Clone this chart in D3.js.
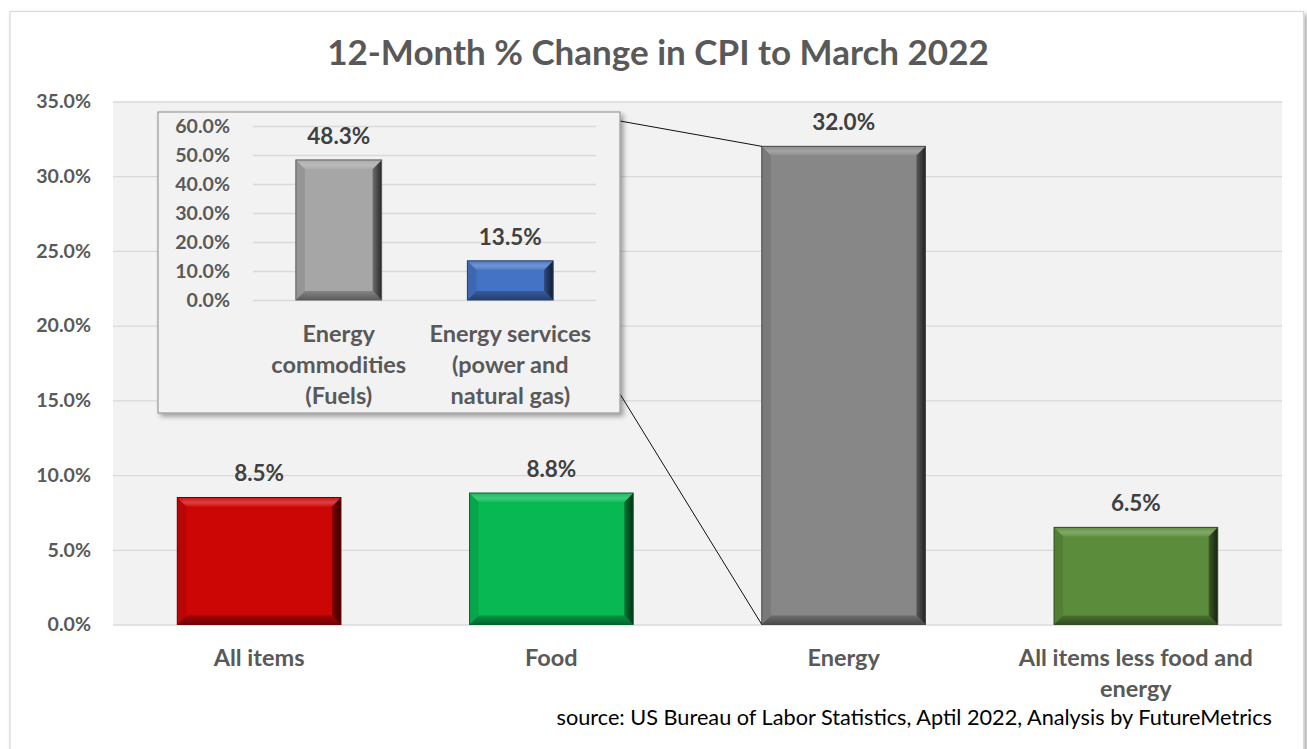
<!DOCTYPE html>
<html>
<head>
<meta charset="utf-8">
<script src="https://cdn.jsdelivr.net/npm/d3@7"></script>
<style>
  html, body { margin: 0; padding: 0; background: #fff; }
  svg { display: block; }
  text { font-family: Lato, "Open Sans", sans-serif; }
</style>
</head>
<body>
<svg id="chart" width="1307" height="749"></svg>
<script>
// Main chart: 12-month CPI change by component
const categories = ["All items", "Food", "Energy", "All items less food and energy"];
const categoryLines = [["All items"], ["Food"], ["Energy"], ["All items less food and", "energy"]];
const values = [8.5, 8.8, 32.0, 6.5];
const barColors = ["#cc0505", "#07b853", "#878787", "#5b8c3b"];
const yTicks = [0, 5, 10, 15, 20, 25, 30, 35];

// Inset: breakdown of the energy component
const insetCategories = ["Energy commodities (Fuels)", "Energy services (power and natural gas)"];
const insetLines = [["Energy", "commodities", "(Fuels)"], ["Energy services", "(power and", "natural gas)"]];
const insetValues = [48.3, 13.5];
const insetColors = ["#a6a6a6", "#4472c4"];
const insetTicks = [0, 10, 20, 30, 40, 50, 60];

const titleText = "12-Month % Change in CPI to March 2022";
const sourceText = "source: US Bureau of Labor Statistics, Aptil 2022, Analysis by FutureMetrics";

const svg = d3.select("#chart");
const defs = svg.append("defs");
const fmt = d => d.toFixed(1) + "%";
const textColor = "#595959";

// soft drop shadow for the frame and inset
const sh = defs.append("filter").attr("id", "shadow").attr("x", "-5%").attr("y", "-5%").attr("width", "115%").attr("height", "115%");
sh.append("feDropShadow").attr("dx", 3).attr("dy", 3).attr("stdDeviation", 2.5).attr("flood-color", "#000").attr("flood-opacity", 0.35);

// outer frame
svg.append("rect").attr("x", 10).attr("y", 11.5).attr("width", 1293.5).attr("height", 760)
  .attr("fill", "#fff").attr("stroke", "#d9d9d9").attr("stroke-width", 1.2).attr("filter", "url(#shadow)");

// main plot area
const plot = { left: 113, right: 1282, top: 101.5, bottom: 624.5 };
svg.append("rect").attr("x", plot.left).attr("y", plot.top)
  .attr("width", plot.right - plot.left).attr("height", plot.bottom - plot.top).attr("fill", "#f2f2f2");

const x = d3.scaleBand().domain(categories).range([plot.left, plot.right]).paddingInner(0.44).paddingOuter(0.22);
const y = d3.scaleLinear().domain([0, 35]).range([plot.bottom, plot.top]);

// gridlines + y labels via a left axis
const yAxis = svg.append("g").attr("transform", `translate(${plot.left},0)`)
  .call(d3.axisLeft(y).tickValues(yTicks).tickFormat(fmt).tickSize(-(plot.right - plot.left)).tickPadding(22));
yAxis.select(".domain").remove();
yAxis.selectAll(".tick line").attr("stroke", "#d9d9d9").attr("stroke-width", 1.3);
yAxis.selectAll(".tick text").attr("fill", textColor).attr("font-size", 19.6).attr("font-weight", 700)
  .attr("font-family", "Lato, sans-serif");

// bevelled bar drawing
function shade(c, k) { return d3.interpolateRgb(c, k > 0 ? "#ffffff" : "#000000")(Math.abs(k)); }
function bevelBar(g, x0, y0, w, h, color, id) {
  const b = Math.min(9, h / 2, w / 2);
  const gr = defs.append("linearGradient").attr("id", "r" + id).attr("x1", 0).attr("x2", 1).attr("y1", 0).attr("y2", 0);
  gr.append("stop").attr("offset", 0).attr("stop-color", shade(color, -0.35));
  gr.append("stop").attr("offset", 1).attr("stop-color", shade(color, -0.75));
  const gt = defs.append("linearGradient").attr("id", "t" + id).attr("x1", 0).attr("x2", 0).attr("y1", 0).attr("y2", 1);
  gt.append("stop").attr("offset", 0).attr("stop-color", shade(color, 0.05));
  gt.append("stop").attr("offset", 0.55).attr("stop-color", shade(color, 0.24));
  gt.append("stop").attr("offset", 1).attr("stop-color", shade(color, 0.07));
  const gb = defs.append("linearGradient").attr("id", "b" + id).attr("x1", 0).attr("x2", 0).attr("y1", 0).attr("y2", 1);
  gb.append("stop").attr("offset", 0).attr("stop-color", shade(color, -0.2));
  gb.append("stop").attr("offset", 1).attr("stop-color", shade(color, -0.45));
  const x1 = x0 + w, y1 = y0 + h;
  g.append("rect").attr("x", x0).attr("y", y0).attr("width", w).attr("height", h).attr("fill", color);
  const poly = (pts, fill) => g.append("polygon").attr("points", pts.map(p => p.join(",")).join(" ")).attr("fill", fill);
  poly([[x0, y0], [x0 + b, y0 + b], [x0 + b, y1 - b], [x0, y1]], shade(color, -0.1));
  poly([[x0, y1], [x0 + b, y1 - b], [x1 - b, y1 - b], [x1, y1]], `url(#b${id})`);
  poly([[x1, y0], [x1, y1], [x1 - b, y1 - b], [x1 - b, y0 + b]], `url(#r${id})`);
  poly([[x0, y0], [x1, y0], [x1 - b, y0 + b], [x0 + b, y0 + b]], `url(#t${id})`);
  g.append("rect").attr("x", x0).attr("y", y0).attr("width", w).attr("height", h)
    .attr("fill", "none").attr("stroke", shade(color, -0.45)).attr("stroke-width", 1);
}

const bars = svg.append("g");
categories.forEach((c, i) => {
  bevelBar(bars, x(c), y(values[i]), x.bandwidth(), y(0) - y(values[i]), barColors[i], "m" + i);
});

// value labels
svg.append("g").selectAll("text").data(values).join("text")
  .attr("x", (d, i) => x(categories[i]) + x.bandwidth() / 2)
  .attr("y", d => y(d) - 16)
  .attr("text-anchor", "middle").attr("fill", "#404040")
  .attr("font-size", 22.5).attr("font-weight", 700).text(fmt);

// category labels
const xl = svg.append("g").selectAll("text").data(categoryLines).join("text")
  .attr("text-anchor", "middle").attr("fill", textColor).attr("font-size", 23.5).attr("font-weight", 700);
xl.each(function (lines, i) {
  const t = d3.select(this);
  lines.forEach((ln, j) => t.append("tspan").attr("x", x(categories[i]) + x.bandwidth() / 2).attr("y", 666 + j * 31).text(ln));
});

// title
svg.append("text").attr("x", 658).attr("y", 65).attr("text-anchor", "middle")
  .attr("fill", textColor).attr("font-size", 35).attr("font-weight", 700).text(titleText);

// source note
svg.append("text").attr("x", 1272).attr("y", 725).attr("text-anchor", "end")
  .attr("fill", "#000").attr("font-size", 21.7).text(sourceText);

// ---- inset ----
const box = { left: 158, right: 620, top: 112, bottom: 413 };
const energyX = x("Energy");
svg.append("line").attr("x1", box.right).attr("y1", 121).attr("x2", energyX).attr("y2", y(values[2]))
  .attr("stroke", "#111").attr("stroke-width", 1);
svg.append("line").attr("x1", box.right).attr("y1", 394).attr("x2", energyX).attr("y2", y(0))
  .attr("stroke", "#111").attr("stroke-width", 1);

svg.append("rect").attr("x", box.left).attr("y", box.top).attr("width", box.right - box.left).attr("height", box.bottom - box.top)
  .attr("fill", "#f2f2f2").attr("stroke", "#9a9a9a").attr("stroke-width", 1.2).attr("filter", "url(#shadow)");

const ix = d3.scaleBand().domain(insetCategories).range([253, 596]).paddingInner(0.5).paddingOuter(0.25);
const iy = d3.scaleLinear().domain([0, 60]).range([300, 126]);

const iAxis = svg.append("g").attr("transform", "translate(253,0)")
  .call(d3.axisLeft(iy).tickValues(insetTicks).tickFormat(fmt).tickSize(-(596 - 253)).tickPadding(23));
iAxis.select(".domain").remove();
iAxis.selectAll(".tick line").attr("stroke", "#d9d9d9").attr("stroke-width", 1.3);
iAxis.selectAll(".tick text").attr("fill", textColor).attr("font-size", 19.6).attr("font-weight", 700)
  .attr("font-family", "Lato, sans-serif");

const ibars = svg.append("g");
insetCategories.forEach((c, i) => {
  bevelBar(ibars, ix(c), iy(insetValues[i]), ix.bandwidth(), iy(0) - iy(insetValues[i]), insetColors[i], "i" + i);
});

svg.append("g").selectAll("text").data(insetValues).join("text")
  .attr("x", (d, i) => ix(insetCategories[i]) + ix.bandwidth() / 2)
  .attr("y", d => iy(d) - 16)
  .attr("text-anchor", "middle").attr("fill", "#404040")
  .attr("font-size", 22.5).attr("font-weight", 700).text(fmt);

const il = svg.append("g").selectAll("text").data(insetLines).join("text")
  .attr("text-anchor", "middle").attr("fill", textColor).attr("font-size", 23.5).attr("font-weight", 700);
il.each(function (lines, i) {
  const t = d3.select(this);
  lines.forEach((ln, j) => t.append("tspan").attr("x", ix(insetCategories[i]) + ix.bandwidth() / 2).attr("y", 342 + j * 31).text(ln));
});
</script>
</body>
</html>
